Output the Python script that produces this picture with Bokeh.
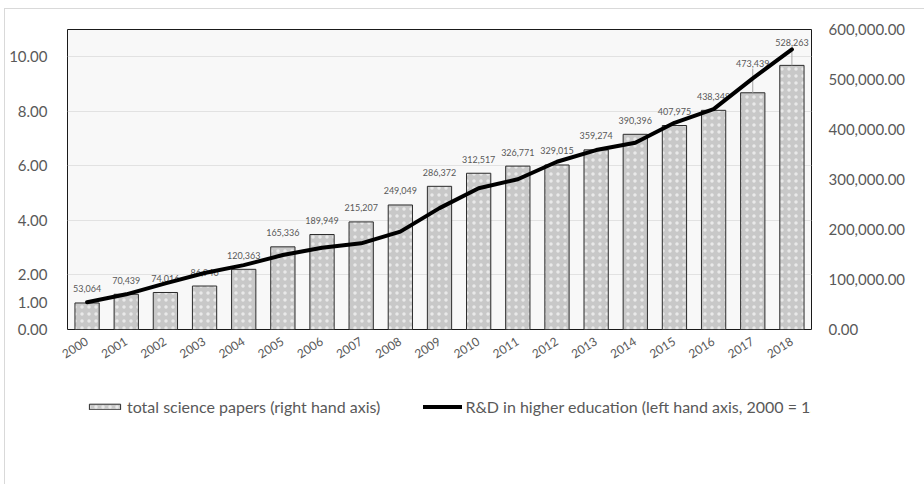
import math
from bokeh.plotting import figure
from bokeh.layouts import column
from bokeh.core.properties import value
from bokeh.models import (ColumnDataSource, Range1d, LinearAxis, FactorRange, LabelSet,
                          Legend, LegendItem, FixedTicker, NumeralTickFormatter)
from bokeh.embed import file_html
from bokeh.resources import INLINE

# ---------------- data ----------------
years = [str(y) for y in range(2000, 2019)]
papers = [53064, 70439, 74016, 86946, 120363, 165336, 189949, 215207, 249049, 286372,
          312517, 326771, 329015, 359274, 390396, 407975, 438349, 473439, 528263]
rd_index = [1.00, 1.29, 1.69, 2.07, 2.36, 2.73, 3.00, 3.16, 3.59, 4.45,
            5.18, 5.51, 6.15, 6.58, 6.85, 7.58, 8.08, 9.21, 10.27]
left_ticks = [0, 2, 4, 6, 8, 10]
right_ticks = [0, 100000, 200000, 300000, 400000, 500000, 600000]
bar_label = "total science papers (right hand axis)"
line_label = "R&D in higher education (left hand axis, 2000 = 1.00)"

# ---------------- style ----------------
FONT = "Lato"
GRAY = "#595959"
OX, OY = 5, 9                      # column content origin inside the light outer border
MB_LEFT = 80                       # fixed left border of main canvas
RIGHT_EXTRA = 18                   # right axis panel reserves more than the min border
W_LEG, H = 924 - OX, 484 - OY
PH = 380                           # main figure height; legend strip below
LH = H - PH
FRAME_L, FRAME_R, FRAME_T, FRAME_B = 67, 811, 29, 329
LEG_X, LEG_TOP = 84, 397
label_offsets = [14] * 17 + [29, 23]   # screen px above bar top
RIGHT_MAX = 600000
px_per_unit = (FRAME_B - FRAME_T) / RIGHT_MAX
canvas_x0 = FRAME_L - MB_LEFT          # window x of main canvas left edge
PW = 924 - canvas_x0 + RIGHT_EXTRA

BAR_STYLE = dict(fill_color="#c8c8c8", line_color="#2b2b2b", line_width=1,
                 hatch_pattern="dot", hatch_color="white", hatch_scale=7,
                 hatch_weight=1, hatch_alpha=0.6)
LINE_STYLE = dict(line_color="black", line_width=4, line_join="round", line_cap="round")

src = ColumnDataSource(dict(
    year=years, papers=papers, rd=rd_index,
    plabel=[f"{v:,}" for v in papers], loff=label_offsets,
))

p = figure(x_range=FactorRange(*years), y_range=Range1d(0, 11),
           width=PW, height=PH, output_backend="svg", toolbar_location=None,
           min_border_left=MB_LEFT, min_border_right=924 - FRAME_R,
           min_border_top=FRAME_T - OY, min_border_bottom=PH - (FRAME_B - OY))
p.extra_y_ranges = {"right": Range1d(0, RIGHT_MAX)}
p.background_fill_color = "#f8f8f8"
p.border_fill_color = None
p.outline_line_color = "#1a1a1a"
p.outline_line_width = 1
p.styles = {"margin-left": f"{canvas_x0 - OX}px"}

bars = p.vbar(x="year", top="papers", width=0.62, source=src, y_range_name="right",
              **BAR_STYLE)

# leader lines for labels lifted higher
lead = [i for i, o in enumerate(label_offsets) if o > 14]
p.segment(x0=[years[i] for i in lead], x1=[years[i] for i in lead],
          y0=[papers[i] for i in lead],
          y1=[papers[i] + (label_offsets[i] - 5) / px_per_unit for i in lead],
          y_range_name="right", line_color="#a6a6a6", line_width=1)

labels = LabelSet(x="year", y="papers", text="plabel", source=src, y_range_name="right",
                  y_offset="loff", text_align="center", text_baseline="middle",
                  text_font=value(FONT), text_font_size=value("9px"),
                  text_color=GRAY)
p.add_layout(labels)

line = p.line(x="year", y="rd", source=src, level="overlay", **LINE_STYLE)

# left axis (also carries the 2000 = 1.00 reference value) and right axis
ya = p.yaxis[0]
ya.ticker = FixedTicker(ticks=sorted(left_ticks + rd_index[:1]))
ya.formatter = NumeralTickFormatter(format="0.00")
p.ygrid.ticker = FixedTicker(ticks=left_ticks)
ra = LinearAxis(y_range_name="right", ticker=FixedTicker(ticks=right_ticks),
                formatter=NumeralTickFormatter(format="0,0.00"))
p.add_layout(ra, "right")
for ax in (ya, ra):
    ax.major_label_text_font = FONT
    ax.major_label_text_font_size = "15px"
    ax.major_label_text_color = GRAY
xa = p.xaxis[0]
for ax in (ya, ra, xa):
    ax.axis_line_color = None
    ax.major_tick_line_color = None
    ax.minor_tick_line_color = None
    ax.major_tick_out = 0
    ax.major_tick_in = 0
    ax.minor_tick_out = 0
ya.major_label_standoff = 20
ra.major_label_standoff = 17

xa.major_label_orientation = math.radians(32)
xa.major_label_text_font = FONT
xa.major_label_text_font_size = "12px"
xa.major_label_text_color = GRAY
xa.major_label_standoff = 11

p.xgrid.grid_line_color = None
p.ygrid.grid_line_color = "#e2e2e2"
p.ygrid.grid_line_width = 1

# ---------------- legend strip ----------------
lf = figure(width=W_LEG, height=LH, x_range=Range1d(0, 1), y_range=Range1d(0, 1),
            output_backend="svg", toolbar_location=None,
            min_border_left=LEG_X - OX, min_border_top=LEG_TOP - OY - PH,
            min_border_right=0, min_border_bottom=0,
            x_axis_type=None, y_axis_type=None)
lf.outline_line_color = None
lf.grid.grid_line_color = None
lf.background_fill_color = "white"
lf.border_fill_color = "white"
# zero-size stand-ins that only provide the legend swatches
lg_bar = lf.vbar(x=[0], top=[0], bottom=[0], width=0, **BAR_STYLE)
lg_line = lf.line(x=[0], y=[0], **LINE_STYLE)
legend = Legend(items=[LegendItem(label=bar_label, renderers=[lg_bar]),
                       LegendItem(label=line_label + "\u00a0" * 10, renderers=[lg_line])],
                location="top_left",
                orientation="horizontal", glyph_width=39, glyph_height=7,
                label_text_font=FONT, label_text_font_size="16px", label_text_color=GRAY,
                background_fill_alpha=0, border_line_color=None, padding=0, margin=0,
                spacing=43, label_standoff=3)
lf.add_layout(legend)

layout = column(p, lf, spacing=0)
layout.styles = {"margin-left": "4px", "margin-top": "8px",
                 "border-left": "1px solid #d9d9d9", "border-top": "1px solid #d9d9d9"}

open("out.html", "w").write(file_html(layout, INLINE))
